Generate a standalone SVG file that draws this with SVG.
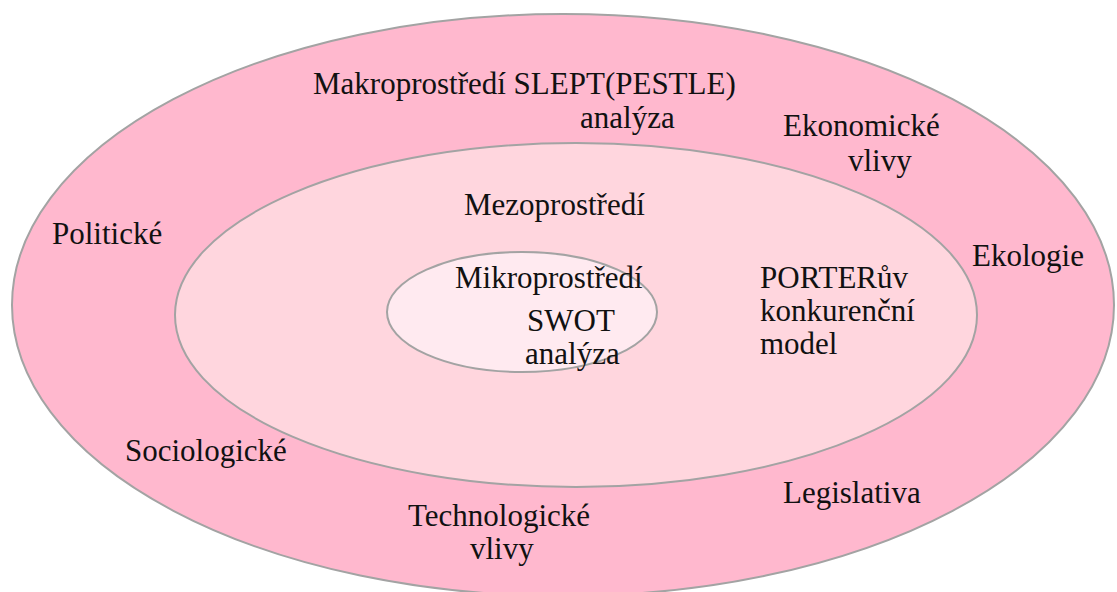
<svg xmlns="http://www.w3.org/2000/svg" width="1117" height="592" viewBox="0 0 1117 592">
<rect width="1117" height="592" fill="#fff"/>
<g id="makro">
<ellipse cx="563" cy="305" rx="551" ry="291" fill="#ffb8ce" stroke="#a3a3a3" stroke-width="2"/>
<text x="313" y="94" font-family="Liberation Serif" font-size="31" fill="#111">Makroprostředí SLEPT(PESTLE)</text>
<text x="580" y="128" font-family="Liberation Serif" font-size="31" fill="#111">analýza</text>
<text x="783" y="136" font-family="Liberation Serif" font-size="31" fill="#111">Ekonomické</text>
<text x="848" y="171" font-family="Liberation Serif" font-size="31" fill="#111">vlivy</text>
<text x="52" y="244" font-family="Liberation Serif" font-size="31" fill="#111">Politické</text>
<text x="972" y="266" font-family="Liberation Serif" font-size="31" fill="#111">Ekologie</text>
<text x="125" y="461" font-family="Liberation Serif" font-size="31" fill="#111">Sociologické</text>
<text x="408" y="526" font-family="Liberation Serif" font-size="31" fill="#111">Technologické</text>
<text x="470" y="559" font-family="Liberation Serif" font-size="31" fill="#111">vlivy</text>
<text x="783" y="503" font-family="Liberation Serif" font-size="31" fill="#111">Legislativa</text>
</g>
<g id="mezo">
<ellipse cx="576" cy="315" rx="401" ry="172" fill="#ffd6de" stroke="#a3a3a3" stroke-width="2"/>
<text x="464" y="215" font-family="Liberation Serif" font-size="31" fill="#111">Mezoprostředí</text>
<text x="760" y="288" font-family="Liberation Serif" font-size="31" fill="#111">PORTERův</text>
<text x="760" y="321" font-family="Liberation Serif" font-size="31" fill="#111">konkurenční</text>
<text x="760" y="354" font-family="Liberation Serif" font-size="31" fill="#111">model</text>
</g>
<g id="mikro">
<ellipse cx="522" cy="312" rx="135" ry="60" fill="#ffeaf0" stroke="#a3a3a3" stroke-width="2"/>
<text x="455" y="288" font-family="Liberation Serif" font-size="31" fill="#111">Mikroprostředí</text>
<text x="527" y="331" font-family="Liberation Serif" font-size="31" fill="#111">SWOT</text>
<text x="525" y="364" font-family="Liberation Serif" font-size="31" fill="#111">analýza</text>
</g>
<g id="connectors"/>
</svg>
